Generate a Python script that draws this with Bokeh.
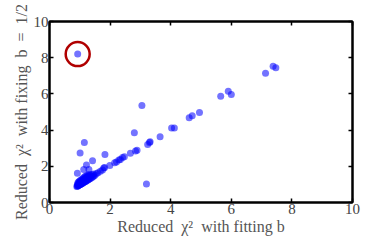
from bokeh.plotting import figure
from bokeh.models import LinearAxis, Range1d, FixedTicker
from bokeh.embed import file_html
from bokeh.resources import INLINE

# Reduced chi^2 values: fitting b (x) vs fixing b = 1/2 (y)
line_x = [1.55, 1.60, 1.68, 1.75, 1.79, 1.82, 1.99, 2.15, 2.21, 2.29, 2.34, 2.41,
          2.47, 2.67, 2.84, 2.89, 3.24, 3.30, 3.32, 3.65, 4.03, 4.12, 4.61, 4.71,
          4.95, 5.65, 5.90, 6.00, 7.13, 7.38, 7.47]
line_y = [1.60, 1.65, 1.72, 1.80, 1.90, 1.93, 2.05, 2.20, 2.24, 2.35, 2.38, 2.49,
          2.53, 2.72, 2.84, 2.88, 3.21, 3.32, 3.36, 3.63, 4.11, 4.11, 4.68, 4.79,
          4.97, 5.87, 6.15, 5.97, 7.14, 7.53, 7.45]

outlier_x = [0.93, 3.05, 2.80, 3.20, 1.15, 1.01, 1.83, 1.42, 1.22, 1.13, 1.30, 0.92]
outlier_y = [8.20, 5.36, 3.86, 1.02, 3.32, 2.73, 2.65, 2.31, 2.07, 1.82, 1.83, 1.62]

cluster_x = [0.90, 0.92, 0.93, 0.95, 0.96, 0.98, 1.00, 1.02, 1.03, 1.05, 1.07, 1.08,
             1.10, 1.12, 1.14, 1.16, 1.18, 1.20, 1.22, 1.25, 1.28, 1.30, 1.33, 1.36,
             1.40, 1.43, 1.46, 1.50, 0.92, 0.95, 0.98, 1.00, 1.03, 1.06, 1.09, 1.12,
             1.15, 1.18, 1.21, 1.24, 1.27, 1.30, 1.35, 1.40, 1.45, 0.94, 0.97, 1.00,
             1.04, 1.08, 1.12, 1.16, 1.20, 1.25, 1.30]
cluster_y = [0.88, 0.90, 0.92, 0.93, 0.95, 0.97, 0.98, 1.00, 1.01, 1.03, 1.05, 1.06,
             1.08, 1.10, 1.12, 1.14, 1.16, 1.18, 1.20, 1.23, 1.26, 1.28, 1.31, 1.34,
             1.38, 1.42, 1.46, 1.50, 1.00, 1.04, 1.08, 1.10, 1.14, 1.18, 1.22, 1.26,
             1.30, 1.33, 1.36, 1.40, 1.43, 1.46, 1.50, 1.55, 1.58, 1.10, 1.15, 1.20,
             1.25, 1.30, 1.36, 1.42, 1.46, 1.50, 1.55]

highlight_x = [0.93]
highlight_y = [8.20]

ticks = [0, 2, 4, 6, 8, 10]

FONT = "Liberation Serif"

p = figure(width=366, height=242, output_backend="svg", toolbar_location=None,
           x_range=Range1d(0, 10), y_range=Range1d(0, 10),
           min_border_left=49, min_border_right=14, min_border_top=21,
           min_border_bottom=40)
p.background_fill_color = "white"
p.border_fill_color = "white"
p.outline_line_color = "black"
p.outline_line_width = 2
p.xgrid.visible = False
p.ygrid.visible = False

def style_axis(ax, labels=True):
    ax.ticker = FixedTicker(ticks=ticks)
    ax.axis_line_width = 2
    ax.axis_line_color = "black"
    ax.major_tick_in = 4
    ax.major_tick_out = 0
    ax.major_tick_line_width = 1.5
    ax.minor_tick_line_color = None
    ax.major_label_text_font = FONT
    ax.major_label_text_font_size = "15px"
    ax.major_label_text_color = "#444444"
    ax.major_label_standoff = 1
    ax.axis_label_text_font = FONT
    ax.axis_label_text_font_size = "16px"
    ax.axis_label_text_font_style = "normal"
    ax.axis_label_text_color = "#555555"
    ax.axis_label_standoff = 1
    if not labels:
        ax.major_label_overrides = {t: "" for t in ticks}

style_axis(p.xaxis[0])
style_axis(p.yaxis[0])
p.xaxis[0].axis_label = "Reduced\u2002χ²\u2002with fitting b"
p.yaxis[0].axis_label = "Reduced\u2002χ²\u2002with fixing\u2002b\u2002=\u20021/2"

top = LinearAxis()
right = LinearAxis()
style_axis(top, labels=False)
style_axis(right, labels=False)
top.major_label_standoff = 0
right.major_label_standoff = 0
p.add_layout(top, "above")
p.add_layout(right, "right")

all_x = cluster_x + line_x + outlier_x
all_y = cluster_y + line_y + outlier_y
p.scatter(all_x, all_y, size=7, fill_color="#0000ff", fill_alpha=0.55,
          line_color=None)

p.scatter(highlight_x, highlight_y, size=24, fill_color=None,
          line_color="#b00000", line_width=2.5)

open("out.html", "w").write(file_html(p, INLINE))
